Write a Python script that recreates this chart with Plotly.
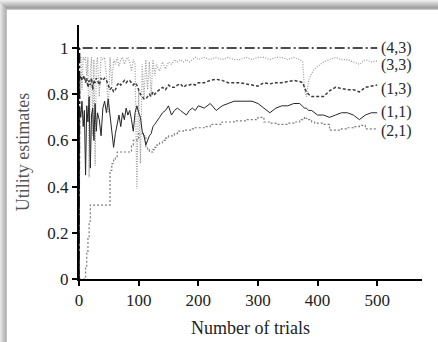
import plotly.graph_objects as go

# ---- data ----
trials = [0, 1, 3, 5, 7, 9, 11, 13, 15, 17,
          19, 21, 23, 25, 27, 29, 31, 34, 37, 40,
          43, 46, 49, 52, 55, 58, 61, 64, 67, 70,
          73, 76, 79, 82, 85, 88, 91, 94, 97, 100,
          103, 106, 109, 112, 115, 118, 121, 124, 127, 130,
          135, 140, 145, 150, 155, 160, 165, 170, 175, 180,
          185, 190, 195, 200, 210, 220, 230, 240, 250, 260,
          270, 280, 290, 300, 310, 320, 330, 340, 350, 360,
          370, 375, 378, 381, 385, 390, 395, 400, 410, 420,
          430, 440, 450, 460, 470, 480, 490, 500]

u33 = [0, 0.96, 0.96, 0.82, 0.96, 0.95, 0.96, 0.88, 0.96, 0.44,
       0.90, 0.96, 0.62, 0.95, 0.49, 0.93, 0.96, 0.79, 0.96, 0.95,
       0.96, 0.88, 0.72, 0.96, 0.84, 0.95, 0.93, 0.96, 0.92, 0.95,
       0.96, 0.93, 0.95, 0.96, 0.94, 0.90, 0.95, 0.93, 0.39, 0.82,
       0.50, 0.93, 0.78, 0.95, 0.82, 0.94, 0.80, 0.95, 0.88, 0.93,
       0.90, 0.94, 0.91, 0.94, 0.93, 0.95, 0.94, 0.95, 0.94, 0.95,
       0.94, 0.95, 0.96, 0.95, 0.96, 0.95, 0.96, 0.95, 0.96, 0.95,
       0.95, 0.96, 0.95, 0.96, 0.96, 0.95, 0.96, 0.96, 0.95, 0.96,
       0.95, 0.94, 0.82, 0.79, 0.86, 0.89, 0.91, 0.92, 0.94, 0.95,
       0.96, 0.95, 0.95, 0.94, 0.93, 0.95, 0.94, 0.945]

u13 = [0, 0.87, 0.88, 0.86, 0.87, 0.88, 0.85, 0.87, 0.83, 0.86,
       0.84, 0.87, 0.82, 0.86, 0.85, 0.87, 0.86, 0.84, 0.87, 0.86,
       0.87, 0.86, 0.84, 0.82, 0.83, 0.81, 0.82, 0.84, 0.85, 0.84,
       0.85, 0.86, 0.85, 0.86, 0.86, 0.85, 0.84, 0.85, 0.84, 0.82,
       0.80, 0.79, 0.78, 0.78, 0.79, 0.80, 0.79, 0.81, 0.80, 0.81,
       0.82, 0.83, 0.82, 0.84, 0.83, 0.83, 0.84, 0.845, 0.83, 0.84,
       0.84, 0.845, 0.84, 0.85, 0.85, 0.86, 0.865, 0.86, 0.85, 0.85,
       0.85, 0.845, 0.84, 0.835, 0.85, 0.845, 0.85, 0.85, 0.855, 0.86,
       0.855, 0.85, 0.83, 0.81, 0.80, 0.79, 0.79, 0.79, 0.79, 0.815,
       0.83, 0.825, 0.82, 0.82, 0.81, 0.83, 0.835, 0.84]

u11 = [0, 0.74, 0.70, 0.77, 0.66, 0.73, 0.45, 0.75, 0.68, 0.79,
       0.48, 0.71, 0.74, 0.60, 0.76, 0.64, 0.72, 0.69, 0.62, 0.74,
       0.77, 0.72, 0.78, 0.70, 0.64, 0.57, 0.63, 0.68, 0.71, 0.66,
       0.72, 0.69, 0.74, 0.71, 0.73, 0.69, 0.64, 0.72, 0.75, 0.72,
       0.70, 0.64, 0.62, 0.58, 0.60, 0.62, 0.63, 0.66, 0.67, 0.68,
       0.70, 0.72, 0.73, 0.75, 0.71, 0.73, 0.74, 0.73, 0.72, 0.71,
       0.73, 0.74, 0.73, 0.75, 0.74, 0.76, 0.73, 0.75, 0.76, 0.77,
       0.77, 0.77, 0.77, 0.76, 0.74, 0.72, 0.74, 0.75, 0.75, 0.76,
       0.76, 0.75, 0.74, 0.74, 0.73, 0.73, 0.72, 0.71, 0.71, 0.70,
       0.71, 0.72, 0.72, 0.71, 0.69, 0.71, 0.72, 0.72]

u21 = [0, 0, 0, 0, 0, 0, 0.05, 0.12, 0.18, 0.25,
       0.32, 0.32, 0.32, 0.32, 0.32, 0.32, 0.32, 0.32, 0.32, 0.32,
       0.32, 0.32, 0.32, 0.47, 0.50, 0.52, 0.53, 0.55, 0.55, 0.55,
       0.55, 0.55, 0.55, 0.55, 0.55, 0.58, 0.60, 0.60, 0.61, 0.63,
       0.63, 0.63, 0.62, 0.57, 0.56, 0.55, 0.55, 0.56, 0.57, 0.58,
       0.59, 0.60, 0.61, 0.62, 0.62, 0.63, 0.64, 0.64, 0.645, 0.645,
       0.645, 0.65, 0.655, 0.655, 0.66, 0.67, 0.67, 0.68, 0.68, 0.685,
       0.685, 0.69, 0.69, 0.70, 0.68, 0.675, 0.67, 0.67, 0.675, 0.68,
       0.69, 0.695, 0.70, 0.695, 0.69, 0.68, 0.675, 0.675, 0.67, 0.645,
       0.645, 0.65, 0.655, 0.66, 0.665, 0.65, 0.65, 0.65]

trials43 = [0, 1, 500]
u43 = [0, 1, 1]

labels = ["(4,3)", "(3,3)", "(1,3)", "(1,1)", "(2,1)"]
label_y = [1.0, 0.925, 0.822, 0.722, 0.643]

xticks = [0, 100, 200, 300, 400, 500]
yticks = [0, 0.2, 0.4, 0.6, 0.8, 1.0]
yticktext = ["0", "0.2", "0.4", "0.6", "0.8", "1"]

FONT = "Liberation Serif, Times New Roman, serif"

fig = go.Figure()
fig.add_trace(go.Scatter(x=trials, y=u21, mode="lines", line_shape="hv",
                         line=dict(color="#7a7a7a", width=1.2, dash="2px,2px")))
fig.add_trace(go.Scatter(x=trials, y=u33, mode="lines",
                         line=dict(color="#9a9a9a", width=1.2, dash="1px,1.5px")))
fig.add_trace(go.Scatter(x=trials, y=u13, mode="lines",
                         line=dict(color="#3c3c3c", width=1.5, dash="3px,2px")))
fig.add_trace(go.Scatter(x=trials, y=u11, mode="lines",
                         line=dict(color="#262626", width=1)))
fig.add_trace(go.Scatter(x=trials43, y=u43, mode="lines",
                         line=dict(color="#111111", width=1.5, dash="10px,3px,2px,3px")))

for lab, yv in zip(labels, label_y):
    fig.add_annotation(x=503, y=yv, xref="x", yref="y", text=lab, showarrow=False,
                       xanchor="left", yanchor="middle",
                       font=dict(family=FONT, size=16, color="#2a2a2a"))

# ---- frame with soft shadow (pixel -> paper conversion) ----
W, H = 438, 342
ML, MR, MT, MB = 79, 16, 25, 63
pw, ph = W - ML - MR, H - MT - MB


def px(xp):
    return (xp - ML) / pw


def py(yp):
    return (H - MB - yp) / ph


shapes = []
top_cols = ["#ececec", "#e2e2e2", "#d8d8d8", "#cdcdcd", "#c2c2c2", "#b6b6b6", "#ababab", "#a2a2a2", "#a8a8a8", "#c8c8c8"]
for i, c in enumerate(top_cols):
    shapes.append(dict(type="rect", xref="paper", yref="paper", x0=px(0), x1=px(W),
                       y0=py(i), y1=py(i + 1), fillcolor=c, line_width=0, layer="below"))
left_cols = ["#e4e4e4", "#dadada", "#d0d0d0", "#c6c6c6", "#bcbcbc", "#b4b4b4", "#c0c0c0"]
for i, c in enumerate(left_cols):
    shapes.append(dict(type="rect", xref="paper", yref="paper", x0=px(i), x1=px(i + 1),
                       y0=py(H), y1=py(i + 3 if i + 3 < 10 else 10), fillcolor=c, line_width=0, layer="below"))

fig.update_layout(
    width=W, height=H,
    margin=dict(l=ML, r=MR, t=MT, b=MB, autoexpand=False),
    paper_bgcolor="white", plot_bgcolor="rgba(0,0,0,0)",
    showlegend=False,
    shapes=shapes,
    font=dict(family=FONT, size=17, color="#222"),
    xaxis=dict(range=[0, 575], tickvals=xticks, showgrid=False, zeroline=False,
               automargin=False,
               showline=True, linecolor="black", linewidth=2,
               ticks="outside", ticklen=5, tickwidth=1.5, tickcolor="black",
               tickfont=dict(family=FONT, size=17, color="#222"),
               title=dict(text="Number of trials", standoff=12,
                          font=dict(family=FONT, size=18, color="#222"))),
    yaxis=dict(range=[0, 1.1], tickvals=yticks, ticktext=yticktext, showgrid=False,
               automargin=False,
               zeroline=False, showline=True, linecolor="black", linewidth=2,
               ticks="outside", ticklen=5, tickwidth=1.5, tickcolor="black",
               tickfont=dict(family=FONT, size=17, color="#222"),
               title=dict(text="Utility estimates", standoff=13,
                          font=dict(family=FONT, size=18, color="#555"))),
)

fig.write_html("out.html", config={"displayModeBar": False},
               post_script="document.body.style.margin='0';"
                           "document.documentElement.style.overflow='hidden';")
